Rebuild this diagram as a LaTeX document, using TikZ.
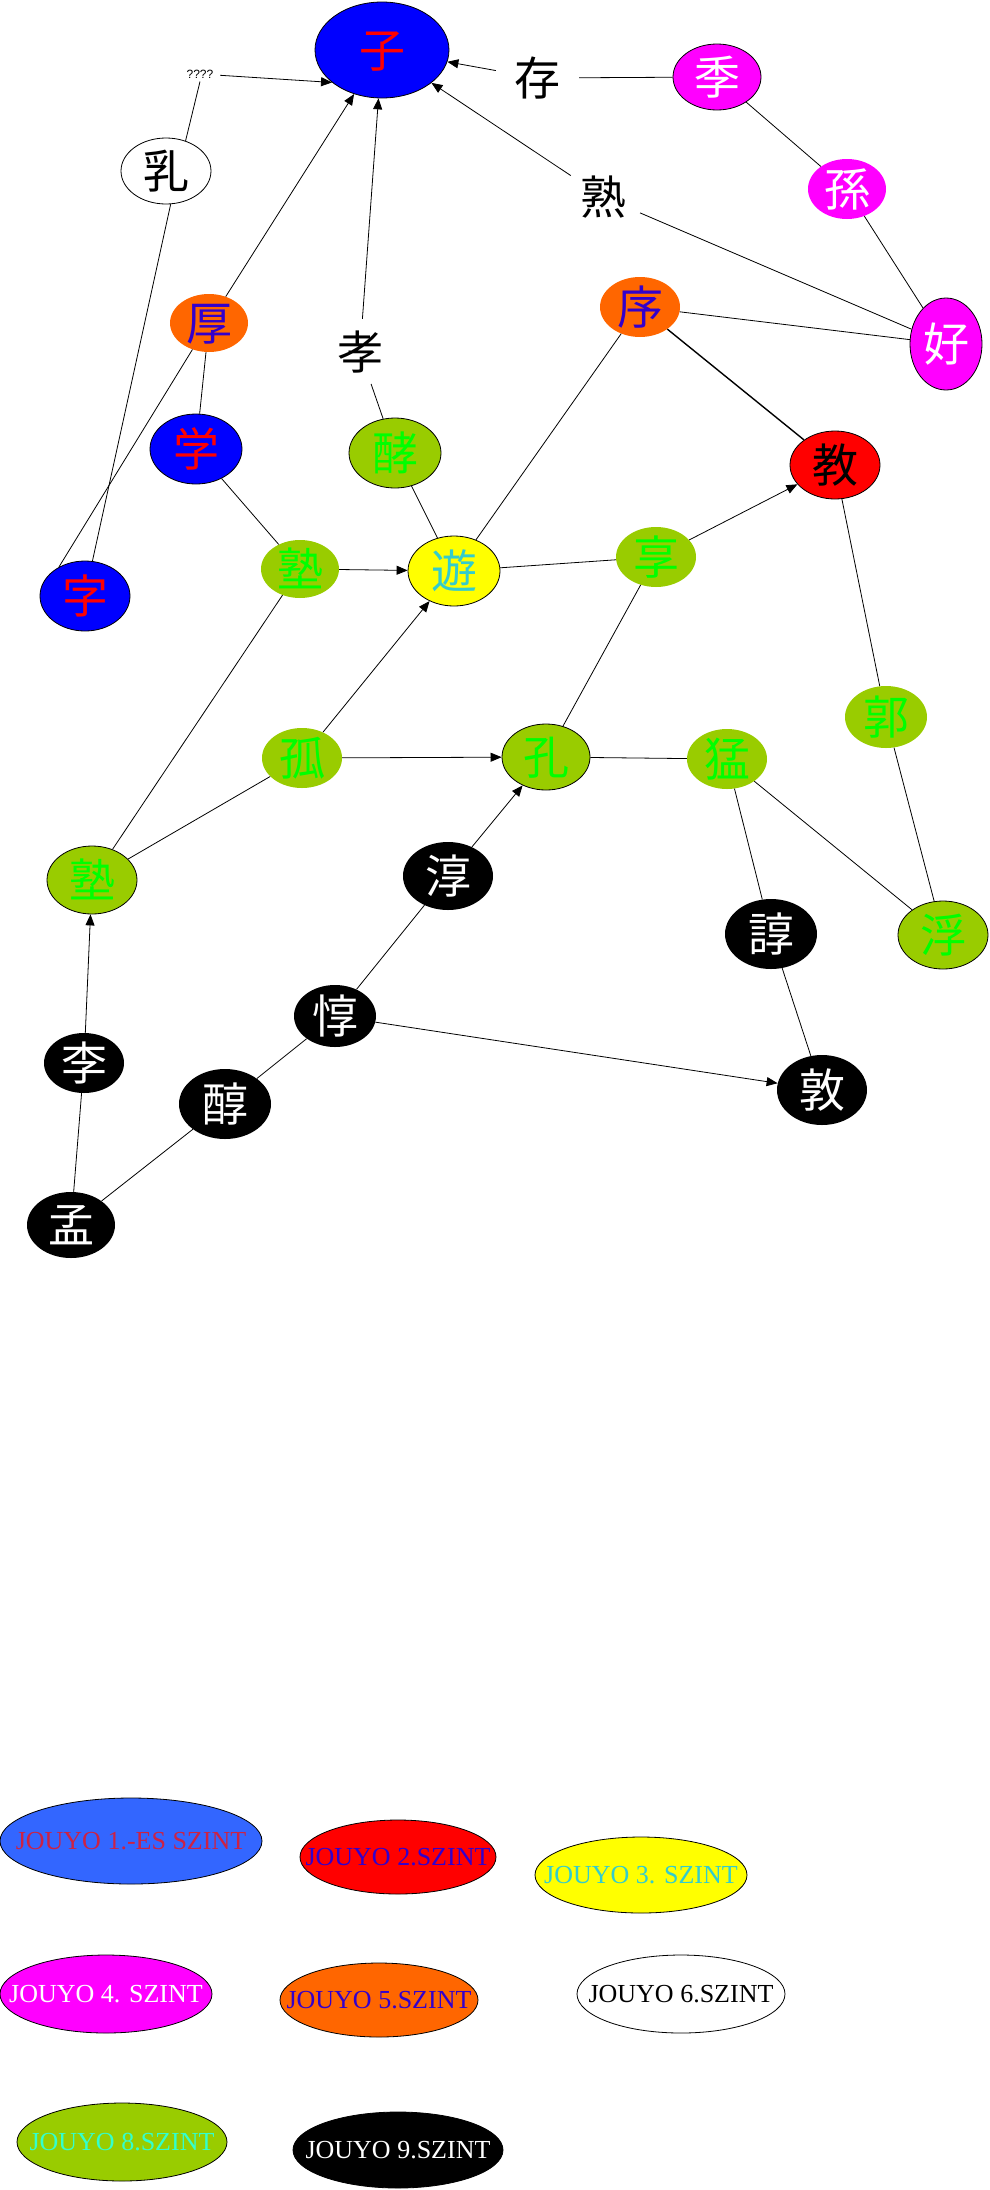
\documentclass[tikz,border=0pt]{standalone}
\usepackage{fontspec}
\setmainfont{Liberation Serif}
\newfontfamily\cjk{Noto Sans CJK JP}
\newfontfamily\qfont{Liberation Sans}
\usetikzlibrary{shapes.geometric,arrows.meta}
\definecolor{kblue}{HTML}{0000FF}
\definecolor{kred}{HTML}{FF0000}
\definecolor{kcrimson}{HTML}{CC2244}
\definecolor{korange}{HTML}{FF6600}
\definecolor{kmag}{HTML}{FF00FF}
\definecolor{kgreen}{HTML}{99CC00}
\definecolor{kgtext}{HTML}{00FF00}
\definecolor{kyellow}{HTML}{FFFF00}
\definecolor{kcyan}{HTML}{33CCCC}
\definecolor{kblueL}{HTML}{3366FF}
\definecolor{ktblue}{HTML}{3300CC}
\definecolor{kteal}{HTML}{33FFCC}
\newcommand\kc[1]{\makebox[0pt]{\raisebox{-0.38em}[0pt][0pt]{#1}}}
\newcommand\lc[1]{\makebox[0pt]{\raisebox{-0.33em}[0pt][0pt]{#1}}}
\tikzset{
  kn/.style={ellipse, inner sep=0pt, font=\cjk\fontsize{46}{46}\selectfont},
  bord/.style={draw=black, line width=0.8pt},
  bluen/.style={kn, bord, fill=kblue, text=kred},
  orn/.style={kn, fill=korange, text=ktblue},
  magn/.style={kn, fill=kmag, text=white},
  grn/.style={kn, fill=kgreen, text=kgtext},
  blkn/.style={kn, fill=black, text=white},
  plain/.style={kn, minimum width=84, minimum height=66, text=black},
  lg/.style={ellipse, inner sep=0pt, draw=black, line width=0.8pt, font=\fontsize{26}{26}\selectfont},
  ed/.style={line width=0.8pt},
  arr/.style={ed, -{Triangle[length=11pt,width=9pt]}}
}
\begin{document}
\begin{tikzpicture}[x=1pt,y=-1pt]
\useasboundingbox (0,0) rectangle (990,2190);
% nodes
\node[bluen, minimum width=134, minimum height=96] (zi) at (382,50) {\kc{子}};
\node[ellipse, inner sep=1pt, font=\qfont\fontsize{12}{12}\selectfont] (qq) at (200,74) {????};
\node[kn, bord, fill=white, text=black, minimum width=90, minimum height=66] (ru) at (166,171) {\kc{乳}};
\node[orn, minimum width=78, minimum height=58] (hou) at (209,323) {\kc{厚}};
\node[plain] (xiao) at (360,352) {\kc{孝}};
\node[plain] (cun) at (537,78) {\kc{存}};
\node[magn, bord, minimum width=88, minimum height=66] (ji) at (717,77) {\kc{季}};
\node[magn, minimum width=78, minimum height=60] (sun) at (847,189) {\kc{孫}};
\node[magn, bord, minimum width=72, minimum height=92] (hao) at (946,344) {\kc{好}};
\node[plain] (shu) at (603,197) {\kc{熟}};
\node[orn, minimum width=80, minimum height=60] (xu) at (640,307) {\kc{序}};
\node[bluen, minimum width=92, minimum height=70] (xue) at (196,449) {\kc{学}};
\node[grn, bord, minimum width=92, minimum height=70] (jiao2) at (395,453) {\kc{酵}};
\node[bluen, minimum width=90, minimum height=70] (zi2) at (85,596) {\kc{字}};
\node[grn, minimum width=78, minimum height=58] (shuku1) at (300,569) {\kc{塾}};
\node[kn, bord, fill=kyellow, text=kcyan, minimum width=92, minimum height=70] (you) at (454,571) {\kc{遊}};
\node[kn, bord, fill=kred, text=black, minimum width=90, minimum height=68] (jiao) at (835,465) {\kc{教}};
\node[grn, minimum width=80, minimum height=60] (xiang) at (656,557) {\kc{享}};
\node[grn, minimum width=80, minimum height=60] (gu) at (302,758) {\kc{孤}};
\node[grn, bord, minimum width=88, minimum height=66] (kong) at (546,757) {\kc{孔}};
\node[grn, minimum width=80, minimum height=60] (meng) at (727,759) {\kc{猛}};
\node[grn, minimum width=82, minimum height=62] (guo) at (886,717) {\kc{郭}};
\node[grn, bord, minimum width=90, minimum height=68] (shuku2) at (92,880) {\kc{塾}};
\node[blkn, minimum width=90, minimum height=68] (chun) at (448,876) {\kc{淳}};
\node[blkn, minimum width=92, minimum height=70] (zhun) at (771,934) {\kc{諄}};
\node[grn, bord, minimum width=90, minimum height=68] (fu) at (943,935) {\kc{浮}};
\node[blkn, minimum width=82, minimum height=62] (dun) at (335,1016) {\kc{惇}};
\node[blkn, minimum width=80, minimum height=60] (li) at (84,1063) {\kc{李}};
\node[blkn, minimum width=92, minimum height=70] (chun2) at (225,1104) {\kc{醇}};
\node[blkn, minimum width=90, minimum height=70] (dun2) at (822,1090) {\kc{敦}};
\node[blkn, minimum width=88, minimum height=66] (meng2) at (71,1225) {\kc{孟}};
% edges
\draw[arr] (qq) -- (zi.213);
\draw[ed] (qq.south) -- (ru.57);
\draw[ed] (ru.278) -- (zi2.78);
\draw[arr] (hou) -- (zi);
\draw[ed] (hou.238) -- (zi2.132);
\draw[ed] (hou) -- (xue);
\draw[arr] (xiao) -- (zi);
\draw[ed] (xiao) -- (jiao2);
\draw[arr] (cun) -- (zi);
\draw[ed] (cun) -- (ji);
\draw[arr] (shu) -- (zi);
\draw[ed] (shu) -- (hao);
\draw[ed] (ji) -- (sun);
\draw[ed] (sun) -- (hao);
\draw[ed] (xu) -- (hao);
\draw[line width=1.4pt] (xu) -- (jiao);
\draw[ed] (xu) -- (you);
\draw[ed] (xue) -- (shuku1);
\draw[ed] (jiao2) -- (you);
\draw[arr] (shuku1) -- (you);
\draw[ed] (shuku1) -- (shuku2);
\draw[ed] (you) -- (xiang);
\draw[arr] (xiang) -- (jiao);
\draw[ed] (xiang) -- (kong);
\draw[ed] (jiao) -- (guo);
\draw[ed] (guo) -- (fu);
\draw[arr] (gu) -- (you);
\draw[arr] (gu) -- (kong);
\draw[ed] (gu) -- (shuku2);
\draw[ed] (kong) -- (meng);
\draw[ed] (meng) -- (zhun);
\draw[ed] (meng) -- (fu);
\draw[ed] (zhun) -- (dun2);
\draw[arr] (chun) -- (kong);
\draw[ed] (dun) -- (chun);
\draw[arr] (dun) -- (dun2);
\draw[ed] (chun2) -- (dun);
\draw[ed] (meng2) -- (chun2);
\draw[ed] (meng2) -- (li);
\draw[arr] (li) -- (shuku2);
% legend
\node[lg, fill=kblueL, text=kcrimson, minimum width=262, minimum height=86] (l1) at (131,1841) {\lc{JOUYO 1.-ES SZINT}};
\node[lg, fill=kred, text=ktblue, minimum width=196, minimum height=74] (l2) at (398,1857) {\lc{JOUYO 2.SZINT}};
\node[lg, fill=kyellow, text=kcyan, minimum width=212, minimum height=76] (l3) at (641,1875) {\lc{JOUYO 3. SZINT}};
\node[lg, fill=kmag, text=white, minimum width=212, minimum height=78] (l4) at (106,1994) {\lc{JOUYO 4. SZINT}};
\node[lg, fill=korange, text=ktblue, minimum width=198, minimum height=74] (l5) at (379,2000) {\lc{JOUYO 5.SZINT}};
\node[lg, fill=white, text=black, minimum width=208, minimum height=78] (l6) at (681,1994) {\lc{JOUYO 6.SZINT}};
\node[lg, fill=kgreen, text=kteal, minimum width=210, minimum height=78] (l8) at (122,2142) {\lc{JOUYO 8.SZINT}};
\node[lg, fill=black, text=white, minimum width=210, minimum height=76] (l9) at (398,2150) {\lc{JOUYO 9.SZINT}};
\end{tikzpicture}
\end{document}
